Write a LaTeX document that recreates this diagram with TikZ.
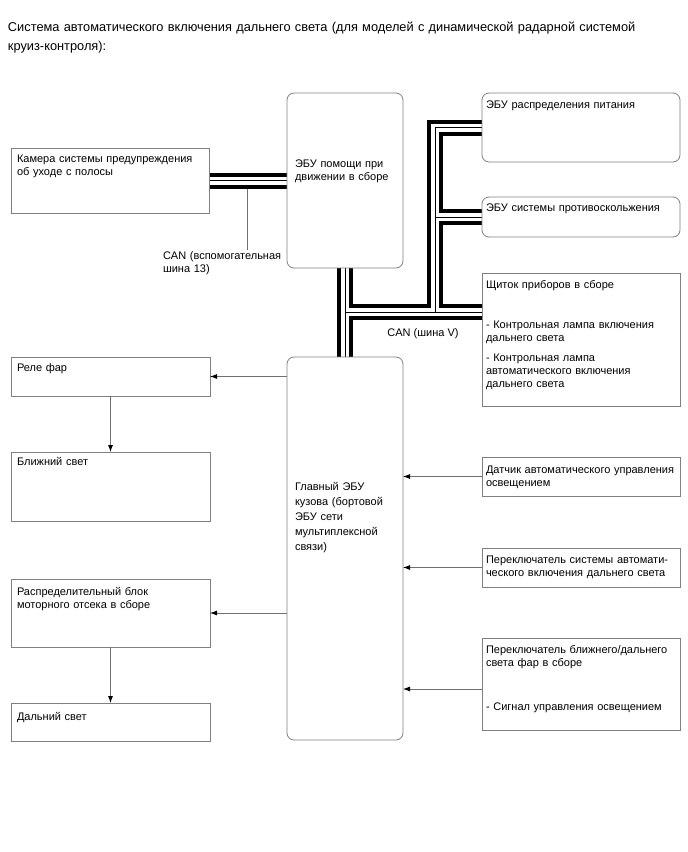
\documentclass[tikz,border=0pt]{standalone}
\usepackage{fontspec}
\setmainfont{Liberation Sans}
\usetikzlibrary{arrows.meta,calc}
\definecolor{boxgray}{HTML}{808080}
\definecolor{arrgray}{HTML}{707070}
\pgfdeclarelayer{bg}
\pgfsetlayers{bg,main}
\begin{document}
\begin{tikzpicture}[x=1pt,y=-1pt,
  box/.style={draw=boxgray, line width=0.8pt, anchor=north west, inner sep=0pt, outer sep=0pt},
  rbox/.style={box, rounded corners=7pt},
  txt/.style={anchor=base west, inner sep=0pt, outer sep=0pt, align=left, text width=#1,
     font=\fontsize{11}{13}\selectfont},
  txt/.default=190pt,
  arr/.style={draw=arrgray, line width=0.8pt, -{Latex[length=7pt,width=5pt,color=black]}},
  lead/.style={draw=arrgray, line width=0.8pt},
  busA/.style={line width=16pt, black},
  busB/.style={line width=8pt, white},
  busC/.style={line width=1pt, black}]
\useasboundingbox (0,0) rectangle (688,852);

% title
\node[txt=680pt, font=\fontsize{12.8}{19}\selectfont] (title) at (8,31)
  {Система автоматического включения дальнего света (для моделей с динамической радарной системой\\круиз-контроля):};

% boxes
\node[box, minimum width=198pt, minimum height=65pt] (cam) at (11,148) {};
\node[rbox, minimum width=116pt, minimum height=175pt] (assist) at (287,93) {};
\node[rbox, minimum width=198pt, minimum height=69pt] (pwr) at (482,93) {};
\node[rbox, minimum width=198pt, minimum height=40pt] (vsc) at (482,197) {};
\node[box, minimum width=198pt, minimum height=133pt] (dash) at (482,273) {};
\node[box, minimum width=199pt, minimum height=39pt] (rele) at (11,357) {};
\node[box, minimum width=199pt, minimum height=69pt] (low) at (11,452) {};
\node[rbox, minimum width=116pt, minimum height=383pt] (main) at (287,357) {};
\node[box, minimum width=198pt, minimum height=39pt] (sens) at (482,457) {};
\node[box, minimum width=198pt, minimum height=39pt] (sw) at (482,548) {};
\node[box, minimum width=198pt, minimum height=92pt] (hl) at (482,638) {};
\node[box, minimum width=199pt, minimum height=68pt] (dist) at (11,579) {};
\node[box, minimum width=199pt, minimum height=38pt] (high) at (11,703) {};

% texts
\node[txt] (camT) at (17,162.5) {Камера системы предупреждения\\об уходе с полосы};
\node[txt=105pt] (assistT) at (295,167) {ЭБУ помощи при\\движении в сборе};
\node[txt=130pt] (canaT) at (163,259) {CAN (вспомогательная\\шина 13)};
\node[txt] (pwrT) at (486,108.5) {ЭБУ распределения питания};
\node[txt] (vscT) at (486,211.5) {ЭБУ системы противоскольжения};
\node[txt] (dashT) at (486,288.5) {Щиток приборов в сборе\\[27pt]- Контрольная лампа включения\\дальнего света\\[7pt]- Контрольная лампа\\автоматического включения\\дальнего света};
\node[anchor=base, inner sep=0pt, font=\fontsize{11}{13}\selectfont] (canvT) at (423,336.5) {CAN (шина V)};
\node[txt] (releT) at (17,371.5) {Реле фар};
\node[txt] (lowT) at (17,465.5) {Ближний свет};
\node[txt=105pt, font=\fontsize{11}{15}\selectfont] (mainT) at (295,490.5) {Главный ЭБУ\\кузова (бортовой\\ЭБУ сети\\мультиплексной\\связи)};
\node[txt] (sensT) at (486,473.5) {Датчик автоматического управления\\освещением};
\node[txt] (swT) at (486,563.5) {Переключатель системы автомати-\\ческого включения дальнего света};
\node[txt] (hlT) at (486,653.5) {Переключатель ближнего/дальнего\\света фар в сборе\\[31pt]- Сигнал управления освещением};
\node[txt] (distT) at (17,595.5) {Распределительный блок\\моторного отсека в сборе};
\node[txt] (highT) at (17,720.5) {Дальний свет};

% junction / helper coordinates
\coordinate (j1) at (345,312);
\coordinate (j2) at (435,312);
\coordinate (j3) at (435,217);
\coordinate (canl) at (247,250);
\coordinate (hlin) at ($(hl.west)+(0,5)$);

\newcommand\mybuses[1]{%
  \draw[#1] (cam.east) -- (cam.east -| assist.west);
  \draw[#1] (assist.south) -- (main.north);
  \draw[#1] (j1) -- (j1 -| dash.west);
  \draw[#1] (j2) |- (pwr.west);
  \draw[#1] (j3) -- (vsc.west);}

\begin{pgfonlayer}{bg}
  \draw[lead] (canl |- cam.east) -- (canl);
  \mybuses{busA}
  \mybuses{busB}
  \mybuses{busC}
\end{pgfonlayer}

% arrows
\draw[arr] (main.west |- rele.east) -- (rele.east);
\draw[arr] (rele.south) -- (low.north);
\draw[arr] (main.west |- dist.east) -- (dist.east);
\draw[arr] (dist.south) -- (high.north);
\draw[arr] (sens.west) -- (sens.west -| main.east);
\draw[arr] (sw.west) -- (sw.west -| main.east);
\draw[arr] (hlin) -- (hlin -| main.east);
\end{tikzpicture}
\end{document}
